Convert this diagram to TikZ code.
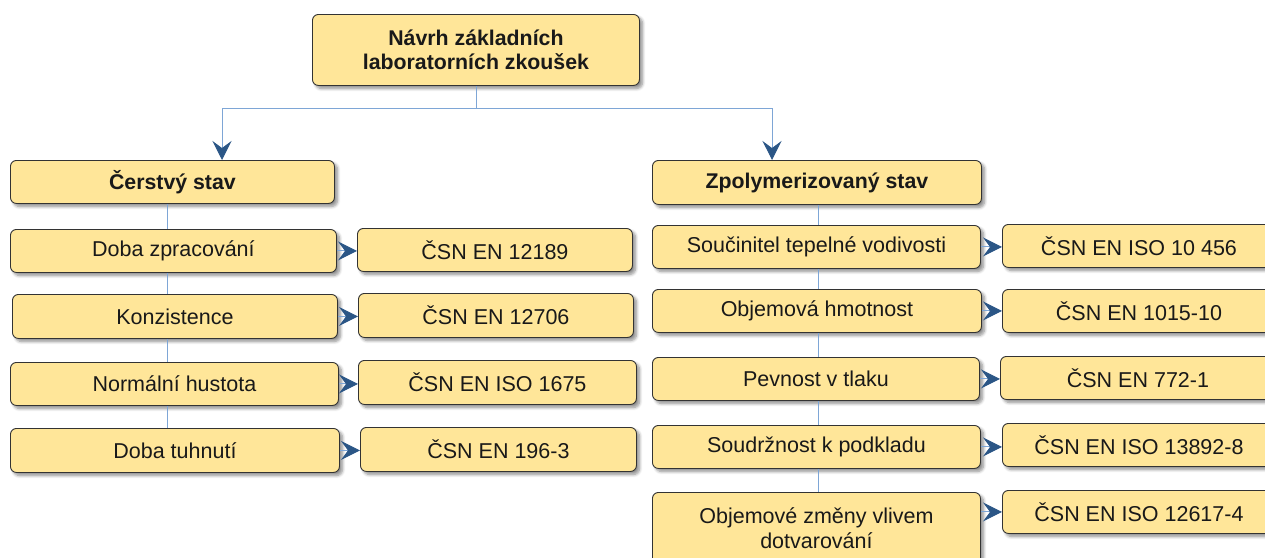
\documentclass[tikz,border=0pt]{standalone}
\usepackage{fontspec}
\setmainfont{Liberation Sans}
\usetikzlibrary{shadows.blur,arrows.meta}
\definecolor{boxfill}{HTML}{FFE699}
\definecolor{linkblue}{HTML}{7EA6D6}
\definecolor{arrowblue}{HTML}{2B5686}
\tikzset{
  card/.style={draw=black!80, fill=boxfill, rounded corners=6pt, line width=0.9pt,
    blur shadow={shadow xshift=3pt, shadow yshift=-3pt, shadow blur radius=3pt,
      shadow blur steps=6, shadow opacity=45},
    anchor=north west, font=\fontsize{21.5}{25}\selectfont, text=black!90,
    align=center, inner sep=0pt},
  head/.style={card, font=\bfseries\fontsize{21.3}{24}\selectfont},
  link/.style={draw=linkblue, line width=0.8pt},
  pointer/.style={draw=linkblue, line width=1pt,
    -{Stealth[length=19pt,width=19pt,inset=7pt,color=arrowblue]}},
}
\begin{document}
\begin{tikzpicture}[x=1pt,y=-1pt]
\clip (0,0) rectangle (1265,557);

% root
\node[head, minimum width=327pt, minimum height=71pt] (root) at (312,14)
  {Návrh základních\\laboratorních zkoušek};

% fresh state column
\node[head, minimum width=324pt, minimum height=43pt] (cer) at (10,160) {Čerstvý stav};
\node[card, minimum width=326pt, minimum height=43pt] (dz) at (10,229) {Doba zpracování};
\node[card, minimum width=275pt, minimum height=43pt] (n1) at (357,228) {ČSN EN 12189};
\node[card, minimum width=325pt, minimum height=44pt] (kon) at (12,294) {Konzistence};
\node[card, minimum width=275pt, minimum height=44pt] (n2) at (358,293) {ČSN EN 12706};
\node[card, minimum width=328pt, minimum height=43pt] (nh) at (10,362) {Normální hustota};
\node[card, minimum width=278pt, minimum height=44pt] (n3) at (358,360) {ČSN EN ISO 1675};
\node[card, minimum width=329pt, minimum height=44pt] (dt) at (10,428) {Doba tuhnutí};
\node[card, minimum width=276pt, minimum height=44pt] (n4) at (360,427) {ČSN EN 196-3};

% cured state column
\node[head, minimum width=329pt, minimum height=44pt] (zp) at (652,160) {Zpolymerizovaný stav};
\node[card, minimum width=328pt, minimum height=43pt] (st) at (652,225) {Součinitel tepelné vodivosti};
\node[card, minimum width=273pt, minimum height=43pt] (m1) at (1002,224) {ČSN EN ISO 10 456};
\node[card, minimum width=329pt, minimum height=43pt] (oh) at (652,289) {Objemová hmotnost};
\node[card, minimum width=273pt, minimum height=43pt] (m2) at (1002,289) {ČSN EN 1015-10};
\node[card, minimum width=327pt, minimum height=43pt] (pt) at (652,357) {Pevnost v tlaku};
\node[card, minimum width=275pt, minimum height=43pt] (m3) at (1000,356) {ČSN EN 772-1};
\node[card, minimum width=328pt, minimum height=43pt] (sk) at (652,425) {Soudržnost k podkladu};
\node[card, minimum width=273pt, minimum height=43pt] (m4) at (1002,423) {ČSN EN ISO 13892-8};
\node[card, minimum width=328pt, minimum height=72pt] (oz) at (652,492) {Objemové změny vlivem\\dotvarování};
\node[card, minimum width=273pt, minimum height=43pt] (m5) at (1002,490) {ČSN EN ISO 12617-4};

% branching from the root
\coordinate (hub) at (476,108);
\coordinate (lft) at (222,108);
\coordinate (rgt) at (772,108);
\draw[link] (root.south -| hub) -- (hub);
\draw[link] (lft) -- (rgt);
\draw[pointer] (lft) -- (lft |- cer.north);
\draw[pointer] (rgt) -- (rgt |- zp.north);

% column spines
\coordinate (lsp) at (167,0);
\coordinate (rsp) at (818,0);
\draw[link] (cer.south -| lsp) -- (dz.north -| lsp);
\draw[link] (dz.south -| lsp) -- (kon.north -| lsp);
\draw[link] (kon.south -| lsp) -- (nh.north -| lsp);
\draw[link] (nh.south -| lsp) -- (dt.north -| lsp);
\draw[link] (zp.south -| rsp) -- (st.north -| rsp);
\draw[link] (st.south -| rsp) -- (oh.north -| rsp);
\draw[link] (oh.south -| rsp) -- (pt.north -| rsp);
\draw[link] (pt.south -| rsp) -- (sk.north -| rsp);
\draw[link] (sk.south -| rsp) -- (oz.north -| rsp);

% test to standard
\draw[pointer] (dz.east) -- (dz.east -| n1.west);
\draw[pointer] (kon.east) -- (kon.east -| n2.west);
\draw[pointer] (nh.east) -- (nh.east -| n3.west);
\draw[pointer] (dt.east) -- (dt.east -| n4.west);
\draw[pointer] (st.east) -- (st.east -| m1.west);
\draw[pointer] (oh.east) -- (oh.east -| m2.west);
\draw[pointer] (pt.east) -- (pt.east -| m3.west);
\draw[pointer] (sk.east) -- (sk.east -| m4.west);
\draw[pointer] (m5.west -| oz.east) -- (m5.west);
\end{tikzpicture}
\end{document}
